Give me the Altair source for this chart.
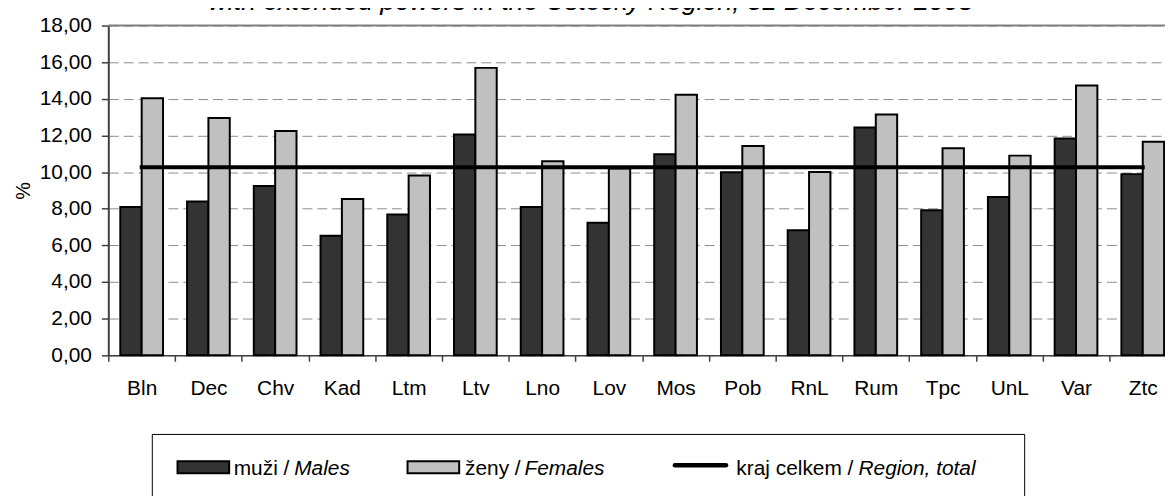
import altair as alt
import pandas as pd

# ---- data ----
categories = ["Bln", "Dec", "Chv", "Kad", "Ltm", "Ltv", "Lno", "Lov",
              "Mos", "Pob", "RnL", "Rum", "Tpc", "UnL", "Var", "Ztc"]
males = [8.10, 8.40, 9.24, 6.52, 7.68, 12.05, 8.10, 7.23,
         10.97, 9.99, 6.83, 12.43, 7.92, 8.64, 11.84, 9.89]
females = [14.03, 12.96, 12.25, 8.53, 9.81, 15.69, 10.59, 10.20,
           14.22, 11.42, 10.01, 13.14, 11.30, 10.90, 14.73, 11.66]
region_total = 10.26
series_names = ["muži", "ženy"]
y_ticks = [0, 2, 4, 6, 8, 10, 12, 14, 16, 18]
title_text = "with extended powers in the Ústecký Region, 31 December 2008"
legend_plain = ["muži /", "ženy /", "kraj celkem /"]
legend_italic = ["Males", "Females", "Region, total"]

df = pd.DataFrame({
    "cat": categories * 2,
    "sex": [series_names[0]] * len(categories) + [series_names[1]] * len(categories),
    "value": males + females,
})
tot = pd.DataFrame({"cat": categories, "value": [region_total] * len(categories)})
one = pd.DataFrame({"k": [0]})

W, H = 1075.2, 332
FONT = "Liberation Sans"
FS = 21

x_scale = alt.Scale(domain=categories, paddingInner=0, paddingOuter=0)
y_scale = alt.Scale(domain=[0, 18], nice=False)
x_axis = alt.Axis(title=None, labelFontSize=FS, labelColor="black", labelPadding=16,
                  labelAngle=0, tickBand="extent", tickSize=6, tickColor="#404040",
                  tickWidth=1.5, domainColor="#404040", domainWidth=1.5, grid=False,
                  labelOverlap=False, labelBound=False)
y_axis = alt.Axis(title="%", values=y_ticks,
                  labelExpr="replace(format(datum.value, '.2f'), '.', ',')",
                  labelFontSize=FS, labelColor="black", labelPadding=10, tickSize=7,
                  tickColor="#404040", tickWidth=1.5, domainColor="#404040", domainWidth=2,
                  grid=True, gridColor="#8c8c8c", gridDash=[10, 5], gridWidth=1,
                  titleFontSize=20, titleFontWeight="normal", titleColor="black",
                  titlePadding=6, labelOverlap=False, labelBound=False, labelFlush=False)

bars = alt.Chart(df).mark_bar(stroke="black", strokeWidth=2).encode(
    x=alt.X("cat:N", scale=x_scale, axis=x_axis, sort=None),
    xOffset=alt.XOffset("sex:N", scale=alt.Scale(domain=series_names, paddingInner=0,
                                                 paddingOuter=0.5625)),
    y=alt.Y("value:Q", scale=y_scale, axis=y_axis),
    color=alt.Color("sex:N", scale=alt.Scale(domain=series_names,
                                             range=["#333333", "#c0c0c0"]), legend=None),
)

line = alt.Chart(tot).mark_line(color="black", strokeWidth=4, strokeCap="square").encode(
    x=alt.X("cat:N", scale=x_scale, axis=x_axis, sort=None),
    y=alt.Y("value:Q", scale=y_scale, axis=y_axis),
)

top_border = alt.Chart(one).mark_rule(color="#808080", strokeWidth=2).encode(
    x=alt.value(0), x2=alt.value(W), y=alt.value(0))

title = alt.Chart(one).mark_text(text=title_text, fontSize=26.8, fontStyle="italic",
                                 align="center", baseline="alphabetic", color="black",
                                 font=FONT).encode(x=alt.value(486), y=alt.value(-15.7))

legend_box = alt.Chart(one).mark_rect(fill="white", stroke="black", strokeWidth=1).encode(
    x=alt.value(44.3), x2=alt.value(922.7), y=alt.value(411.7), y2=alt.value(476))

sw_m = alt.Chart(one).mark_rect(fill="#333333", stroke="black", strokeWidth=2).encode(
    x=alt.value(69.7), x2=alt.value(121.7), y=alt.value(438.7), y2=alt.value(450.7))
sw_f = alt.Chart(one).mark_rect(fill="#c0c0c0", stroke="black", strokeWidth=2).encode(
    x=alt.value(301.3), x2=alt.value(353.3), y=alt.value(438.7), y2=alt.value(450.7))
sw_t = alt.Chart(one).mark_rule(color="black", strokeWidth=4.5, strokeCap="round").encode(
    x=alt.value(570.5), x2=alt.value(622.0), y=alt.value(442.7))

def ltext(txt, xpos, italic):
    kw = dict(text=txt, fontSize=FS, align="center", baseline="alphabetic", color="black",
              font=FONT)
    if italic:
        kw["fontStyle"] = "italic"
    return alt.Chart(one).mark_text(**kw).encode(x=alt.value(xpos), y=alt.value(452.7))

texts = [
    ltext(legend_plain[0], 154.3, False), ltext(legend_italic[0], 215.2, True),
    ltext(legend_plain[1], 387.2, False), ltext(legend_italic[1], 459.3, True),
    ltext(legend_plain[2], 691.3, False), ltext(legend_italic[2], 814.3, True),
]

chart = alt.layer(bars, line, top_border, title, legend_box, sw_m, sw_f, sw_t, *texts).properties(
    width=W, height=H,
    autosize=alt.AutoSizeParams(type="none"),
    padding={"left": 101, "top": 16, "right": -11.2, "bottom": 140},
).configure(font=FONT).configure_view(stroke=None)

chart.save("out.html", embed_options={"renderer": "svg", "actions": False})
